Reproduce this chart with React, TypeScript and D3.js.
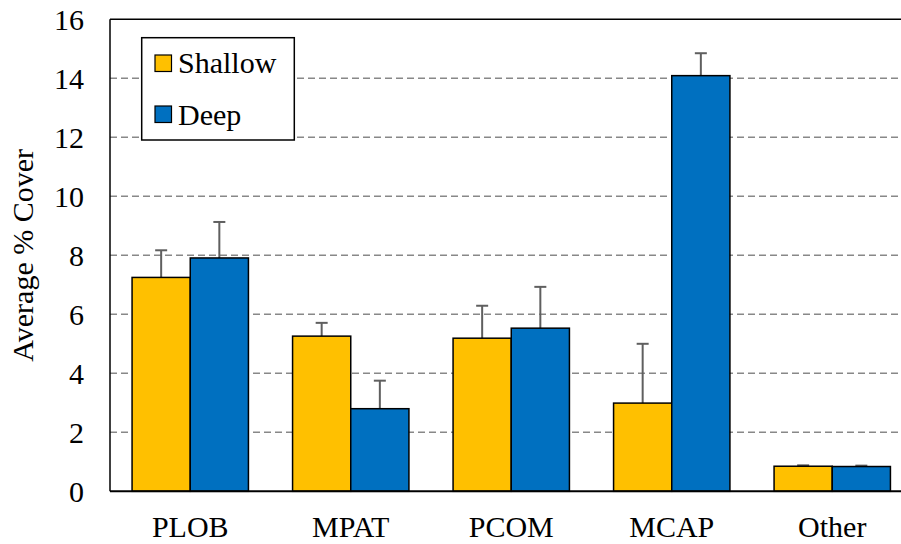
import React from "react";
import * as d3 from "d3";

const categories = ["PLOB", "MPAT", "PCOM", "MCAP", "Other"];
const seriesNames = ["Shallow", "Deep"];
const shallowValues = [7.25, 5.26, 5.19, 2.99, 0.85];
const shallowErrTop = [8.17, 5.71, 6.29, 5.0, 0.88];
const deepValues = [7.91, 2.8, 5.53, 14.09, 0.84];
const deepErrTop = [9.13, 3.75, 6.93, 14.85, 0.87];
const yTicks = [0, 2, 4, 6, 8, 10, 12, 14, 16];

const W = 901;
const H = 544;
const left = 110;
const right = 912.5;
const top = 19.3;
const bottom = 491.3;
const colors = ["#FFC000", "#0070C0"];
const font = "'Times New Roman', Tinos, 'Liberation Serif', 'DejaVu Serif', serif";
const fs = 30;
const textStyle = { fontFamily: font, fontSize: fs + "px" } as React.CSSProperties;

export default function App() {
  const x = d3
    .scaleBand<string>()
    .domain(categories)
    .range([left, right])
    .paddingInner(0.275)
    .paddingOuter(0.1375);
  const xs = d3.scaleBand<string>().domain(seriesNames).range([0, x.bandwidth()]);
  const y = d3.scaleLinear().domain([0, 16]).range([bottom, top]);

  const series = [
    { name: "Shallow", vals: shallowValues, err: shallowErrTop, color: colors[0] },
    { name: "Deep", vals: deepValues, err: deepErrTop, color: colors[1] },
  ];

  return (
    <svg
      width={W}
      height={H}
      style={{ position: "absolute", left: 0, top: 0, background: "#fff" }}
    >
      <rect x={0} y={0} width={W} height={H} fill="#fff" />
      {yTicks
        .filter((t) => t > 0 && t < 16)
        .map((t) => (
          <line
            key={"g" + t}
            x1={left}
            x2={right}
            y1={y(t)}
            y2={y(t)}
            stroke="#888"
            strokeWidth={1.5}
            strokeDasharray="7,4"
          />
        ))}
      {series.map((s) =>
        categories.map((c, i) => {
          const bx = (x(c) as number) + (xs(s.name) as number);
          const bw = xs.bandwidth();
          const cx = bx + bw / 2;
          return (
            <g key={s.name + c}>
              <line x1={cx} x2={cx} y1={y(s.vals[i])} y2={y(s.err[i])} stroke="#5f5f5f" strokeWidth={2} />
              <line x1={cx - 6} x2={cx + 6} y1={y(s.err[i])} y2={y(s.err[i])} stroke="#5f5f5f" strokeWidth={2} />
              <rect
                x={bx}
                y={y(s.vals[i])}
                width={bw}
                height={y(0) - y(s.vals[i])}
                fill={s.color}
                stroke="#000"
                strokeWidth={1.5}
              />
            </g>
          );
        })
      )}
      <line x1={left} x2={right} y1={top} y2={top} stroke="#000" strokeWidth={1.5} />
      <line x1={left} x2={left} y1={top} y2={bottom} stroke="#000" strokeWidth={1.5} />
      <line x1={left} x2={right} y1={bottom} y2={bottom} stroke="#000" strokeWidth={2} />
      {yTicks.map((t) => (
        <text key={"t" + t} x={84} y={y(t)} dy="0.35em" textAnchor="end" style={textStyle} fill="#000">
          {t}
        </text>
      ))}
      {categories.map((c) => (
        <text
          key={"c" + c}
          x={(x(c) as number) + x.bandwidth() / 2}
          y={537}
          textAnchor="middle"
          style={textStyle}
          fill="#000"
        >
          {c}
        </text>
      ))}
      <text
        transform={`translate(33,${(top + bottom) / 2}) rotate(-90)`}
        textAnchor="middle"
        style={textStyle}
        fill="#000"
      >
        Average % Cover
      </text>
      <g>
        <rect x={141.7} y={37.7} width={152.6} height={102.3} fill="#fff" stroke="#000" strokeWidth={1.5} />
        {series.map((s, i) => (
          <g key={"l" + s.name}>
            <rect
              x={155}
              y={55 + i * 51}
              width={16.5}
              height={16.5}
              fill={s.color}
              stroke="#000"
              strokeWidth={1.2}
            />
            <text x={178} y={73 + i * 51.5} style={textStyle} fill="#000">
              {s.name}
            </text>
          </g>
        ))}
      </g>
    </svg>
  );
}
